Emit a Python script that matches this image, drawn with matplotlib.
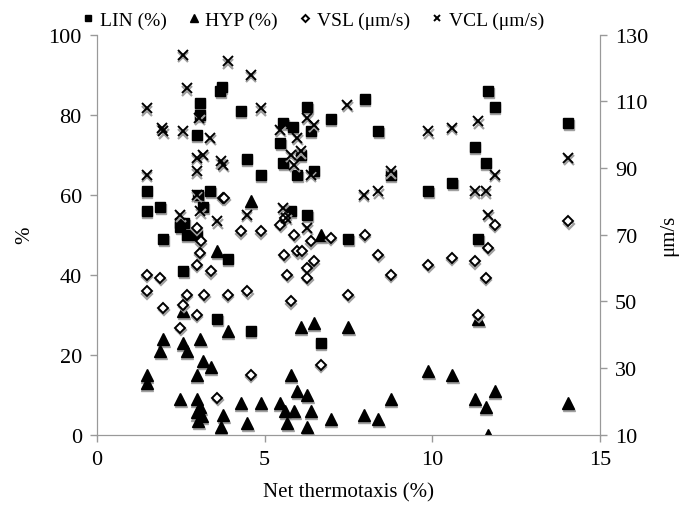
import matplotlib
matplotlib.use("Agg")
import matplotlib.pyplot as plt
from matplotlib.transforms import offset_copy

plt.rcParams['font.family'] = ['Liberation Serif', 'DejaVu Serif']

# LIN (%) vs net thermotaxis
lin_x = [1.48, 1.48, 1.88, 1.98, 2.48, 2.6, 2.48, 2.57, 2.67, 2.97, 2.97, 3.06, 3.06,
         3.02, 3.17, 3.37, 3.67, 3.72, 3.89, 3.59, 4.29, 4.46, 4.88, 4.58, 5.46,
         5.56, 5.84, 5.56, 5.97, 6.08, 6.27, 6.37, 6.47, 6.97, 5.78, 6.27, 6.67,
         7.49, 7.99, 8.39, 8.76, 9.88, 10.6, 11.27, 11.37, 11.59, 11.67, 11.87, 14.06]
lin_y = [61, 56, 57, 49, 53, 53, 52, 41, 50, 50, 75, 83, 80,
         60, 57, 61, 86, 87, 44, 29, 81, 69, 65, 26, 73,
         78, 77, 68, 65, 70, 82, 76, 66, 79, 56, 55, 23,
         49, 84, 76, 65, 61, 63, 72, 49, 68, 86, 82, 78]

# HYP (%)
hyp_x = [1.48, 1.48, 1.88, 1.98, 2.48, 2.56, 2.57, 2.67, 2.97, 2.97, 2.97, 3.02, 3.07,
         3.07, 3.12, 3.17, 3.39, 3.59, 3.69, 3.77, 3.89, 4.29, 4.48, 4.58, 4.88,
         5.45, 5.61, 5.67, 5.78, 5.88, 5.97, 6.08, 6.27, 6.27, 6.37, 6.47, 6.67,
         6.97, 7.49, 7.96, 8.39, 8.76, 9.88, 10.6, 11.27, 11.37, 11.59, 11.67, 11.87, 14.06]
hyp_y = [15, 13, 21, 24, 9, 23, 31, 21, 15, 9, 5.6, 3.5, 24,
         7, 4.75, 18.5, 17, 46, 2, 5, 26, 8, 3, 58.5, 8,
         8, 6, 3, 15, 6, 11, 27, 10, 2, 6, 28, 50,
         4, 27, 5, 4, 9, 16, 15, 9, 29, 7, 0, 11, 8]

# VSL (um/s)
vsl_x = [1.48, 1.48, 1.88, 1.98, 2.48, 2.57, 2.67, 2.97, 2.97, 2.97, 3.09, 3.06, 3.19,
         3.39, 3.59, 3.75, 3.8, 3.89, 4.29, 4.48, 4.58, 4.88, 5.46, 5.61, 5.58,
         5.68, 5.78, 5.88, 5.97, 6.1, 6.27, 6.27, 6.37, 6.47, 6.67, 6.97, 7.49,
         7.99, 8.39, 8.76, 9.88, 10.58, 11.27, 11.37, 11.59, 11.67, 11.87, 14.06]
vsl_y = [58, 53, 57, 48, 42, 49, 52, 72, 61, 46, 68, 64.5, 52,
         59, 21, 81, 81, 52, 71, 53, 28, 71, 73, 75, 64,
         58, 50, 70, 65, 65, 60, 57, 68, 62, 31, 69, 52,
         70, 64, 58, 61, 63, 62, 46, 57, 66, 73, 74]

# VCL (um/s)
vcl_x = [1.48, 1.48, 1.93, 1.98, 2.48, 2.55, 2.56, 2.67, 2.97, 2.97, 2.97, 3.05, 3.07,
         3.17, 3.37, 3.59, 3.69, 3.77, 3.89, 4.46, 4.58, 4.88, 5.46, 5.56, 5.65,
         5.78, 5.88, 5.97, 6.08, 6.27, 6.27, 6.37, 6.47, 7.47, 7.96, 8.39, 8.76,
         9.88, 10.58, 11.27, 11.37, 11.59, 11.67, 11.87, 14.06]
vcl_y = [108, 88, 102, 101, 76, 124, 101, 114, 93, 89, 82, 105, 77,
         94, 99, 74, 92, 91, 122, 76, 118, 108, 101.5, 78, 75,
         94, 91, 99, 95, 105, 72, 88, 103, 109, 82, 83, 89,
         101, 102, 83, 104, 83, 76, 88, 93]

fig = plt.figure(figsize=(6.84, 5.10), dpi=100)
ax = fig.add_axes([0.142, 0.146, 0.735, 0.784])
ax2 = ax.twinx()

grey = '#a0a0a0'


def shadow(a):
    return offset_copy(a.transData, fig=fig, x=0.5, y=-2.5, units='dots')


# gray drop shadows first, then the black markers
ax.plot(lin_x, lin_y, 's', ms=7.5, color=grey, mec=grey, transform=shadow(ax), zorder=2)
ax.plot(hyp_x, hyp_y, '^', ms=8, color=grey, mec=grey, transform=shadow(ax), zorder=2)
ax2.plot(vsl_x, vsl_y, 'D', ms=5.5, mfc='none', mec=grey, mew=1.6, transform=shadow(ax2), zorder=2)
ax2.plot(vcl_x, vcl_y, 'x', ms=7, mec=grey, mew=1.6, transform=shadow(ax2), zorder=2)

l1, = ax.plot(lin_x, lin_y, 's', ms=7.5, color='black', zorder=3, label='LIN (%)')
l2, = ax.plot(hyp_x, hyp_y, '^', ms=8, color='black', zorder=3, label='HYP (%)')
l3, = ax2.plot(vsl_x, vsl_y, 'D', ms=5.5, mfc='white', mec='black', mew=1.4, zorder=3,
               label='VSL (\u03bcm/s)')
l4, = ax2.plot(vcl_x, vcl_y, 'x', ms=7, mec='black', mew=1.4, zorder=3, label='VCL (\u03bcm/s)')

ax.set_xlim(0, 15)
ax.set_ylim(0, 100)
ax2.set_ylim(10, 130)
ax.set_xticks([0, 5, 10, 15])
ax.set_yticks(range(0, 101, 20))
ax2.set_yticks(range(10, 131, 20))

for a in (ax, ax2):
    for s in a.spines.values():
        s.set_color('#999999')
    a.spines['top'].set_visible(False)
    a.tick_params(colors='#999999', labelcolor='black', labelsize=16, length=5, width=1, pad=6)

ax.set_xlabel('Net thermotaxis (%)', fontsize=15, labelpad=10)
ax.set_ylabel('%', fontsize=15, labelpad=10)
ax2.set_ylabel('\u03bcm/s', fontsize=15, labelpad=8)

fig.legend(handles=[l1, l2, l3, l4], loc='upper center', bbox_to_anchor=(0.455, 1.01),
           ncol=4, frameon=False, fontsize=14, handletextpad=0.1, columnspacing=0.9,
           markerscale=0.65, handlelength=1.0)

fig.savefig('out.png', dpi=100)
